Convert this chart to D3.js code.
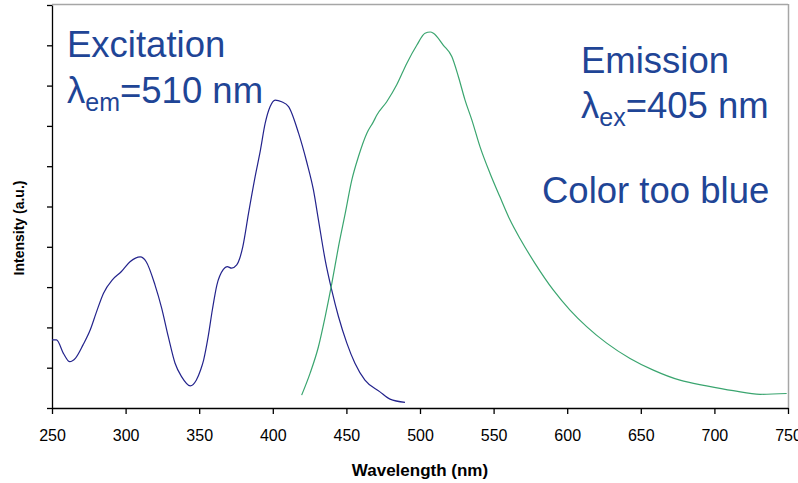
<!DOCTYPE html>
<html>
<head>
<meta charset="utf-8">
<script src="https://cdn.jsdelivr.net/npm/d3@7"></script>
<style>
  html, body { margin: 0; padding: 0; background: #fff; }
  svg { display: block; font-family: "Liberation Sans", Arial, sans-serif; }
</style>
</head>
<body>
<svg id="chart" width="798" height="483"></svg>
<script>
// Excitation spectrum (lambda_em = 510 nm): wavelength (nm), intensity (a.u.)
const excWavelength = [250, 253, 258, 262, 266, 271, 276, 280, 285, 291, 297, 303, 310, 314, 320, 324.5, 329, 333.6, 338, 344, 348, 351, 353, 356, 359, 362, 366.4, 369, 372, 375.5, 377.5, 379.6, 383.5, 388, 391.4, 394.8, 398.2, 401.6, 406, 410.7, 417.5, 423, 427.6, 431, 435.6, 440, 444.6, 450.3, 455.8, 462.6, 472.8, 479.6, 489.8];
const excIntensity  = [1.69, 1.69, 1.34, 1.15, 1.24, 1.56, 1.94, 2.36, 2.85, 3.18, 3.38, 3.63, 3.75, 3.63, 3.05, 2.48, 1.77, 1.11, 0.78, 0.55, 0.69, 0.95, 1.19, 1.75, 2.45, 3.05, 3.44, 3.51, 3.47, 3.55, 3.71, 4.0, 4.83, 5.74, 6.36, 7.06, 7.48, 7.64, 7.60, 7.48, 6.82, 6.11, 5.41, 4.67, 3.67, 2.93, 2.27, 1.61, 1.11, 0.69, 0.40, 0.22, 0.14];

// Emission spectrum (lambda_ex = 405 nm)
const emWavelength = [419.6, 425.3, 431, 435.6, 440.1, 444.6, 449.2, 453.7, 458.2, 463.9, 468.3, 470.7, 477.4, 484.2, 491, 497.8, 503.4, 507, 509.1, 515.9, 521.6, 526.1, 530.6, 535.2, 540.8, 547.6, 554.3, 561.1, 568, 578.1, 590.5, 601.9, 613.2, 626.8, 642.7, 658.5, 676.6, 694.7, 712.8, 731, 749.1];
const emIntensity  = [0.32, 0.86, 1.52, 2.27, 3.09, 4.0, 4.83, 5.66, 6.24, 6.82, 7.10, 7.27, 7.60, 8.02, 8.55, 9.0, 9.30, 9.33, 9.30, 9.0, 8.72, 8.22, 7.64, 7.15, 6.48, 5.82, 5.24, 4.67, 4.20, 3.59, 2.93, 2.43, 2.02, 1.61, 1.23, 0.94, 0.69, 0.55, 0.43, 0.34, 0.36];

const xTicks = [250, 300, 350, 400, 450, 500, 550, 600, 650, 700, 750];
const yTicks = [0, 1, 2, 3, 4, 5, 6, 7, 8, 9, 10];

const svg = d3.select("#chart");
const mLeft = 52, mRight = 788, mTop = 5, mBottom = 408;

const x = d3.scaleLinear().domain([250, 750]).range([mLeft, mRight]);
const y = d3.scaleLinear().domain([0, 10]).range([mBottom, mTop]);

// frame: top and right borders (gray)
svg.append("line").attr("x1", mLeft).attr("x2", mRight).attr("y1", mTop - 0.5).attr("y2", mTop - 0.5)
  .attr("stroke", "#a6a6a6").attr("stroke-width", 1.5);
svg.append("line").attr("x1", mRight + 0.5).attr("x2", mRight + 0.5).attr("y1", mTop - 1).attr("y2", mBottom)
  .attr("stroke", "#a6a6a6").attr("stroke-width", 1.5);

// axes
const xAxis = svg.append("g").attr("transform", `translate(0,${mBottom})`)
  .call(d3.axisBottom(x).tickValues(xTicks).tickSize(6).tickSizeOuter(0).tickPadding(16).tickFormat(d3.format("d")));
xAxis.select(".domain").attr("stroke", "#000").attr("stroke-width", 1.3);
xAxis.selectAll(".tick line").attr("stroke", "#000").attr("stroke-width", 1.3);
xAxis.selectAll("text").attr("font-size", 16).attr("fill", "#000")
  .attr("font-family", "'Liberation Sans', Arial, sans-serif");

const yAxis = svg.append("g").attr("transform", `translate(${mLeft},0)`)
  .call(d3.axisLeft(y).tickValues(yTicks).tickSize(5).tickSizeOuter(0).tickFormat(""));
yAxis.select(".domain").attr("stroke", "#000").attr("stroke-width", 1.3);
yAxis.selectAll(".tick line").attr("stroke", "#000").attr("stroke-width", 1.3);

// axis titles
svg.append("text").attr("x", 420).attr("y", 476).attr("text-anchor", "middle")
  .attr("font-size", 17).attr("font-weight", "bold").attr("fill", "#000")
  .text("Wavelength (nm)");
svg.append("text").attr("transform", "translate(24,228) rotate(-90)").attr("text-anchor", "middle")
  .attr("font-size", 14).attr("font-weight", "bold").attr("fill", "#000")
  .text("Intensity (a.u.)");

// curves
const line = d3.line().curve(d3.curveMonotoneX).x(d => x(d[0])).y(d => y(d[1]));
svg.append("path").datum(excWavelength.map((w, i) => [w, excIntensity[i]]))
  .attr("d", line).attr("fill", "none").attr("stroke", "#23238c").attr("stroke-width", 1.2)
  .attr("stroke-linejoin", "round");
svg.append("path").datum(emWavelength.map((w, i) => [w, emIntensity[i]]))
  .attr("d", line).attr("fill", "none").attr("stroke", "#3aa56f").attr("stroke-width", 1.2)
  .attr("stroke-linejoin", "round");

// annotations
const annColor = "#1f4596";
const annSize = 36.5;
function lambdaLabel(xp, yp, sub, rest) {
  const t = svg.append("text").attr("x", xp).attr("y", yp).attr("font-size", annSize).attr("fill", annColor);
  t.append("tspan").text("λ");
  t.append("tspan").attr("font-size", 25).attr("dy", 8).text(sub);
  t.append("tspan").attr("dy", -8).text(rest);
}
svg.append("text").attr("x", 67).attr("y", 57).attr("font-size", annSize).attr("fill", annColor).text("Excitation");
lambdaLabel(67, 103, "em", "=510 nm");
svg.append("text").attr("x", 581).attr("y", 73).attr("font-size", annSize).attr("fill", annColor).text("Emission");
lambdaLabel(581, 118, "ex", "=405 nm");
svg.append("text").attr("x", 542).attr("y", 203).attr("font-size", annSize).attr("fill", annColor).text("Color too blue");
</script>
</body>
</html>
